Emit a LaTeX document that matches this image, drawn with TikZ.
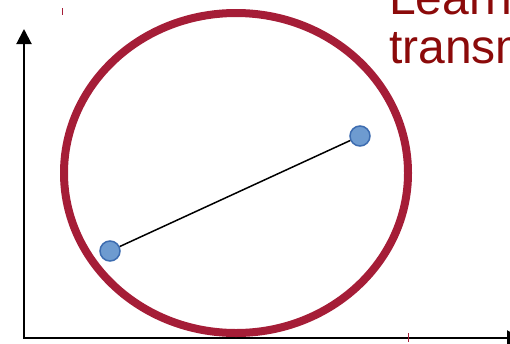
\documentclass[tikz,border=0pt]{standalone}
\usepackage{fontspec}
\setmainfont{Liberation Sans}
\usetikzlibrary{arrows.meta, positioning}
\definecolor{ringred}{HTML}{A51D37}
\definecolor{textred}{HTML}{8B0A0A}
\definecolor{dotblue}{HTML}{6E9BD0}
\definecolor{dotedge}{HTML}{3D6CB0}
\tikzset{
    point/.style={circle, draw=dotedge, fill=dotblue, line width=1.5pt, minimum size=20pt, inner sep=0pt},
    axis/.style={line width=2pt, -{Triangle[length=15pt, width=15pt]}},
    handle/.style={ringred, line width=1pt}
}

\begin{document}
\begin{tikzpicture}[x=1pt, y=-1pt]
    \useasboundingbox (0, 0) rectangle (510, 343);
    \clip (0, 0) rectangle (510, 343);

    \coordinate (O) at (24, 338);
    \coordinate (Ytop) at (24, 29);
    \coordinate (Xend) at (522, 338);
    \draw[axis] (O) -- (Ytop);
    \draw[axis] ([xshift=-1pt]O) -- (Xend);

    \draw[ringred, line width=8pt] (236, 173) ellipse (172pt and 160pt);

    \node[point] (p1) at (110, 251) {};
    \node[point] (p2) at (360, 136) {};
    \draw[line width=1.5pt] (p1) -- (p2);

    \node[anchor=base west, text=textred, font=\fontsize{48}{49}\selectfont, inner sep=0pt] (learn) at (389, 14) {Learn};
    \node[anchor=base west, text=textred, font=\fontsize{48}{49}\selectfont, inner sep=0pt] (transm) at (389, 63) {transmission};

    \draw[handle] (62, 8) -- (62, 15);
    \draw[handle] (408, 333) -- (408, 342);
\end{tikzpicture}
\end{document}
